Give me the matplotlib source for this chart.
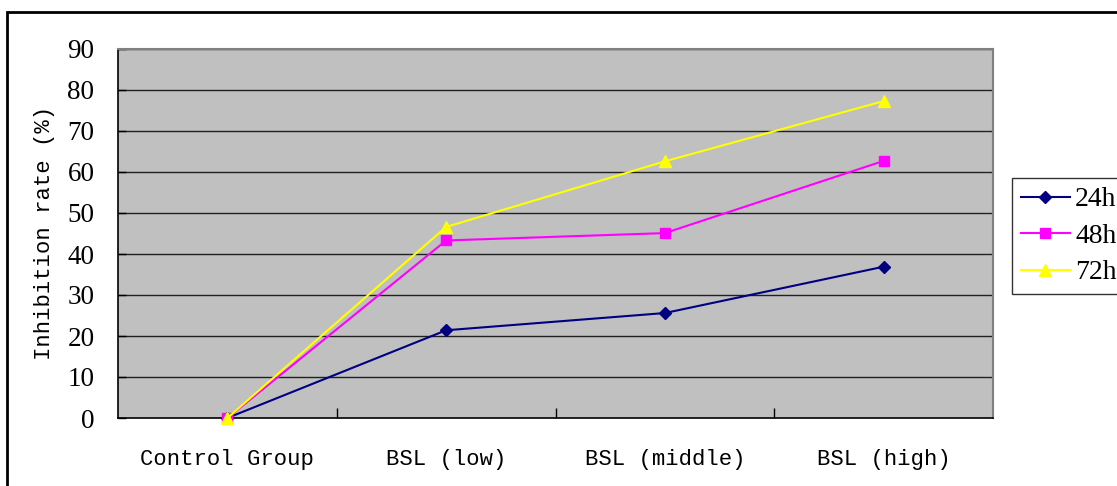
import matplotlib
matplotlib.use("Agg")
import matplotlib.pyplot as plt
from matplotlib.patches import Rectangle

# data
groups = ["Control Group", "BSL (low)", "BSL (middle)", "BSL (high)"]
series_names = ["24h", "48h", "72h"]
rate_24h = [0, 21.4, 25.6, 36.9]
rate_48h = [0, 43.3, 45.1, 62.7]
rate_72h = [0, 46.6, 62.6, 77.3]
yticks = [0, 10, 20, 30, 40, 50, 60, 70, 80, 90]

mono = "Liberation Mono"
serif = "Liberation Serif"

fig = plt.figure(figsize=(11.17, 4.86), dpi=100)
fig.patch.set_facecolor("white")
# outer chart frame (runs off right/bottom edges)
fig.add_artist(Rectangle((7 / 1117, -0.05), 1.2, (486 - 12) / 486 + 0.05,
                         transform=fig.transFigure, fill=False,
                         edgecolor="black", linewidth=2))

ax = fig.add_axes([118 / 1117, 1 - 418 / 486, (993 - 118) / 1117, (418 - 49) / 486])
ax.set_facecolor("#c0c0c0")

x = range(len(groups))
ax.plot(x, rate_24h, color="#000080", marker="D", markersize=6, linewidth=1.5,
        label=series_names[0], zorder=3, clip_on=False)
ax.plot(x, rate_48h, color="#ff00ff", marker="s", markersize=7, linewidth=1.5,
        label=series_names[1], zorder=3, clip_on=False)
ax.plot(x, rate_72h, color="#ffff00", marker="^", markersize=8, linewidth=1.5,
        label=series_names[2], zorder=4, clip_on=False)

ax.set_xlim(-0.5, len(groups) - 0.5)
ax.set_ylim(0, 90)
ax.set_yticks(yticks)
ax.set_yticklabels([str(v) for v in yticks], fontfamily=serif, fontsize=19.5)
for v in yticks[1:]:
    ax.axhline(v, color="#202020", linewidth=1, zorder=1)

ax.set_xticks(list(x))
ax.set_xticklabels(groups, fontfamily=mono, fontsize=16)
ax.set_xticks([0.5, 1.5, 2.5], minor=True)
ax.tick_params(axis="x", which="major", length=0, pad=22)
ax.tick_params(axis="x", which="minor", direction="in", length=7, width=1, color="black")
ax.tick_params(axis="y", direction="in", length=6, width=1, color="black", pad=17)

for s in ["top", "right"]:
    ax.spines[s].set_color("#808080")
    ax.spines[s].set_linewidth(1.5)
for s in ["left", "bottom"]:
    ax.spines[s].set_color("black")
    ax.spines[s].set_linewidth(1.2)

fig.text(45 / 1117, 1 - 233 / 486, "Inhibition rate (%)", rotation=90,
         ha="center", va="center", fontfamily=mono, fontsize=16)

leg = fig.legend(loc="upper left", bbox_to_anchor=(1012 / 1117, 1 - 178 / 486),
                 prop={"family": serif, "size": 20}, frameon=True, fancybox=False,
                 handlelength=1.75, handletextpad=0.2, labelspacing=0.4,
                 borderpad=0.32, borderaxespad=0)
leg.get_frame().set_edgecolor("black")
leg.get_frame().set_linewidth(1)

fig.savefig("out.png", dpi=100)
